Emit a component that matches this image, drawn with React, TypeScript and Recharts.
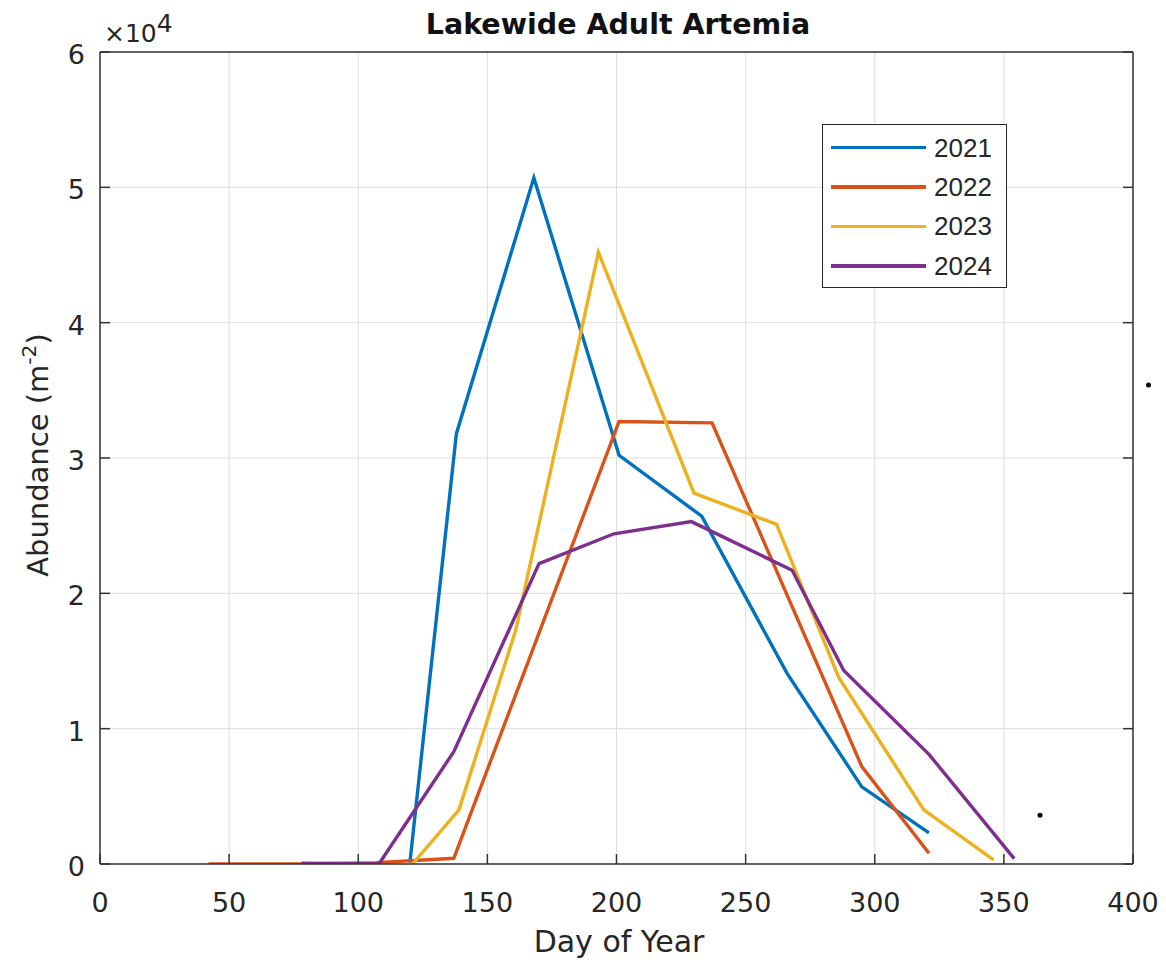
import { LineChart, Line, XAxis, YAxis, CartesianGrid, Legend, ReferenceDot } from 'recharts'

// day of year / abundance (m^-2)
const days2021 = [120, 138, 168, 201, 233, 266, 295, 321]
const abundance2021 = [100, 31800, 50700, 30200, 25700, 14100, 5700, 2300]

const days2022 = [42, 78, 107, 137, 201, 237, 295, 321]
const abundance2022 = [0, 0, 100, 420, 32700, 32600, 7200, 800]

const days2023 = [121, 139, 161, 193, 230, 262, 286, 319, 346]
const abundance2023 = [0, 4000, 17300, 45200, 27400, 25100, 13800, 4000, 300]

const days2024 = [78, 108, 137, 170, 199, 229, 268, 288, 321, 354]
const abundance2024 = [50, 0, 8300, 22200, 24400, 25300, 21700, 14300, 8100, 400]

const xTicks = [0, 50, 100, 150, 200, 250, 300, 350, 400]
const yTicks = [0, 10000, 20000, 30000, 40000, 50000, 60000]

// two stray black dots in the figure
const strayDots = [
  { day: 364, value: 3600 },
  { day: 406, value: 35400 },
]

const toPoints = (days: number[], values: number[]) =>
  days.map((d, i) => ({ day: d, value: values[i] }))

const SERIES = [
  { name: '2021', color: '#0072BD', data: toPoints(days2021, abundance2021) },
  { name: '2022', color: '#D95319', data: toPoints(days2022, abundance2022) },
  { name: '2023', color: '#EDB120', data: toPoints(days2023, abundance2023) },
  { name: '2024', color: '#7E2F8E', data: toPoints(days2024, abundance2024) },
]

const INK = '#262626'
const AXIS = '#333333'
const TICK_LEN = 10
const FONT = '"DejaVu Sans", sans-serif'

function BottomTick({ x, y, payload }: any) {
  return (
    <g>
      <line x1={x} x2={x} y1={y} y2={y - TICK_LEN} stroke={AXIS} strokeWidth={1.5} />
      <text x={x} y={y + 47.5} textAnchor="middle" fill={INK} fontSize={27} fontFamily={FONT}>
        {payload.value}
      </text>
    </g>
  )
}

function TopTick({ x, y }: any) {
  return <line x1={x} x2={x} y1={y} y2={y + TICK_LEN} stroke={AXIS} strokeWidth={1.5} />
}

function LeftTick({ x, y, payload }: any) {
  return (
    <g>
      <line x1={x} x2={x + TICK_LEN} y1={y} y2={y} stroke={AXIS} strokeWidth={1.5} />
      <text x={x - 15} y={y + 12} textAnchor="end" fill={INK} fontSize={27} fontFamily={FONT}>
        {payload.value / 10000}
      </text>
    </g>
  )
}

function RightTick({ x, y }: any) {
  return <line x1={x} x2={x - TICK_LEN} y1={y} y2={y} stroke={AXIS} strokeWidth={1.5} />
}

function LegendBox({ payload }: any) {
  return (
    <div
      style={{
        width: 185,
        height: 164,
        boxSizing: 'border-box',
        border: `1.5px solid ${INK}`,
        background: '#fff',
        paddingTop: 3,
      }}
    >
      {(payload ?? []).map((entry: any) => (
        <div key={entry.value} style={{ display: 'flex', alignItems: 'center', height: 39.4 }}>
          <div style={{ marginLeft: 8, width: 95, height: 3.5, background: entry.color }} />
          <span
            style={{
              marginLeft: 8,
              fontSize: 26,
              lineHeight: 1,
              fontFamily: '"Liberation Sans", Arial, sans-serif',
              color: INK,
            }}
          >
            {entry.value}
          </span>
        </div>
      ))}
    </div>
  )
}

export default function App() {
  return (
    <div
      style={{
        position: 'absolute',
        left: 0,
        top: 0,
        width: 1166,
        height: 963,
        background: '#fff',
        fontFamily: FONT,
        color: INK,
      }}
    >
      {/* axes get 1px so recharts draws them; plot area is x 100..1133, y 52..864 */}
      <LineChart width={1166} height={963} margin={{ top: 51, right: 32, bottom: 98, left: 99 }}>
        <CartesianGrid stroke="#dedede" strokeWidth={1} />
        <XAxis
          dataKey="day"
          type="number"
          domain={[0, 400]}
          ticks={xTicks}
          interval={0}
          allowDataOverflow
          height={1}
          tickSize={0}
          tickMargin={0}
          tickLine={false}
          axisLine={{ stroke: AXIS, strokeWidth: 1.5 }}
          tick={<BottomTick />}
        />
        <XAxis
          xAxisId="top"
          orientation="top"
          type="number"
          domain={[0, 400]}
          ticks={xTicks}
          interval={0}
          allowDataOverflow
          height={1}
          tickSize={0}
          tickMargin={0}
          tickLine={false}
          axisLine={{ stroke: AXIS, strokeWidth: 1.5 }}
          tick={<TopTick />}
        />
        <YAxis
          type="number"
          domain={[0, 60000]}
          ticks={yTicks}
          interval={0}
          allowDataOverflow
          width={1}
          tickSize={0}
          tickMargin={0}
          tickLine={false}
          axisLine={{ stroke: AXIS, strokeWidth: 1.5 }}
          tick={<LeftTick />}
        />
        <YAxis
          yAxisId="right"
          orientation="right"
          type="number"
          domain={[0, 60000]}
          ticks={yTicks}
          interval={0}
          allowDataOverflow
          width={1}
          tickSize={0}
          tickMargin={0}
          tickLine={false}
          axisLine={{ stroke: AXIS, strokeWidth: 1.5 }}
          tick={<RightTick />}
        />
        {SERIES.map(s => (
          <Line
            key={s.name}
            name={s.name}
            data={s.data}
            dataKey="value"
            type="linear"
            stroke={s.color}
            strokeWidth={3.4}
            dot={false}
            activeDot={false}
            isAnimationActive={false}
          />
        ))}
        {strayDots.map((d, i) => (
          <ReferenceDot key={i} x={d.day} y={d.value} r={2.5} fill="#000" stroke="none" ifOverflow="visible" />
        ))}
        <Legend
          content={<LegendBox />}
          layout="vertical"
          align="center"
          verticalAlign="middle"
          wrapperStyle={{ left: 822, top: 124, width: 185, height: 164 }}
        />
      </LineChart>

      <div
        style={{
          position: 'absolute',
          left: 618,
          top: 11,
          transform: 'translateX(-50%)',
          fontSize: 28.5,
          lineHeight: 1,
          fontWeight: 'bold',
          whiteSpace: 'nowrap',
          color: '#111',
        }}
      >
        Lakewide Adult Artemia
      </div>

      <div style={{ position: 'absolute', left: 104, top: 21, fontSize: 25, lineHeight: 1, whiteSpace: 'nowrap' }}>
        ×10<span style={{ position: 'relative', top: -10 }}>4</span>
      </div>

      <div
        style={{
          position: 'absolute',
          left: 619,
          top: 927,
          transform: 'translateX(-50%)',
          fontSize: 30,
          lineHeight: 1,
          whiteSpace: 'nowrap',
        }}
      >
        Day of Year
      </div>

      <div
        style={{
          position: 'absolute',
          left: 38,
          top: 455,
          transform: 'translate(-50%, -50%) rotate(-90deg)',
          fontSize: 29,
          lineHeight: 1,
          whiteSpace: 'nowrap',
        }}
      >
        Abundance (m<span style={{ fontSize: '0.7em', position: 'relative', top: -12 }}>-2</span>)
      </div>
    </div>
  )
}
